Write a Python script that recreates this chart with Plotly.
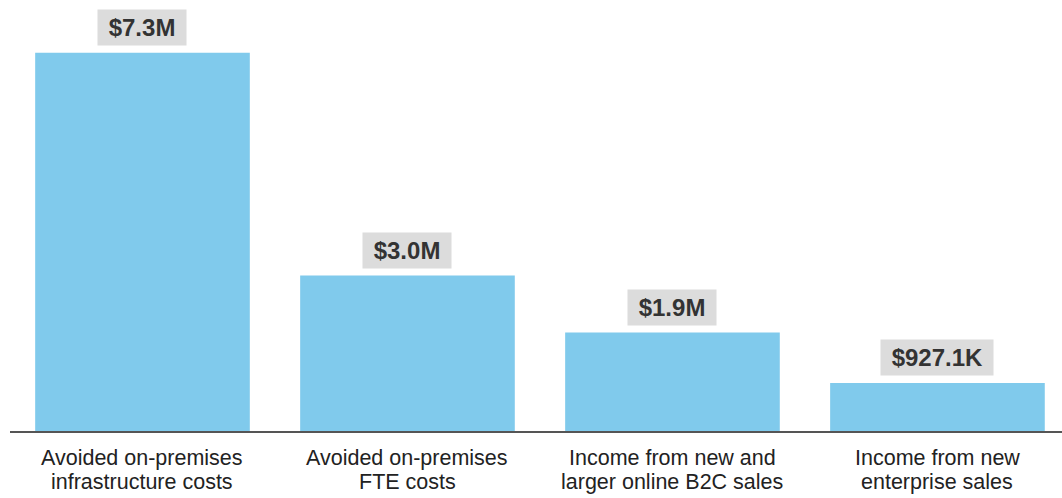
import plotly.graph_objects as go

categories = [
    "Avoided on-premises<br>infrastructure costs",
    "Avoided on-premises<br>FTE costs",
    "Income from new and<br>larger online B2C sales",
    "Income from new<br>enterprise sales",
]
values_musd = [7.3, 3.0, 1.9, 0.9271]
value_labels = ["$7.3M", "$3.0M", "$1.9M", "$927.1K"]

FONT = "Liberation Sans, Arial, sans-serif"

fig = go.Figure(
    go.Bar(
        x=categories,
        y=values_musd,
        marker=dict(color="#80CAEC", line=dict(width=0)),
        hoverinfo="skip",
    )
)

# grey value tags above each bar
for cat, val, lab in zip(categories, values_musd, value_labels):
    fig.add_annotation(
        x=cat, y=val, text="&nbsp;<b>%s</b>&nbsp;" % lab, showarrow=False,
        yanchor="bottom", yshift=7,
        font=dict(family=FONT, size=24, color="#333333"),
        bgcolor="#DCDCDC", borderpad=4,
    )

# two-line category captions under the axis, set tightly
for cat in categories:
    for i, line in enumerate(cat.split("<br>")):
        fig.add_annotation(
            x=cat, y=0, text=line, showarrow=False,
            yanchor="middle", yshift=-27 - 24 * i,
            font=dict(family=FONT, size=21.5, color="#222222"),
        )

fig.update_layout(
    width=1062, height=498,
    margin=dict(l=10, r=0, t=0, b=67),
    paper_bgcolor="white", plot_bgcolor="white",
    bargap=0.19,
    showlegend=False,
    font=dict(family=FONT, size=18, color="#222222"),
)
fig.update_xaxes(
    range=[-0.5, 3.47], showline=True, linecolor="#555555", linewidth=2,
    ticks="", showgrid=False, showticklabels=False,
)
fig.update_yaxes(range=[0, 8.32], visible=False, showgrid=False)

fig.write_html("out.html")
